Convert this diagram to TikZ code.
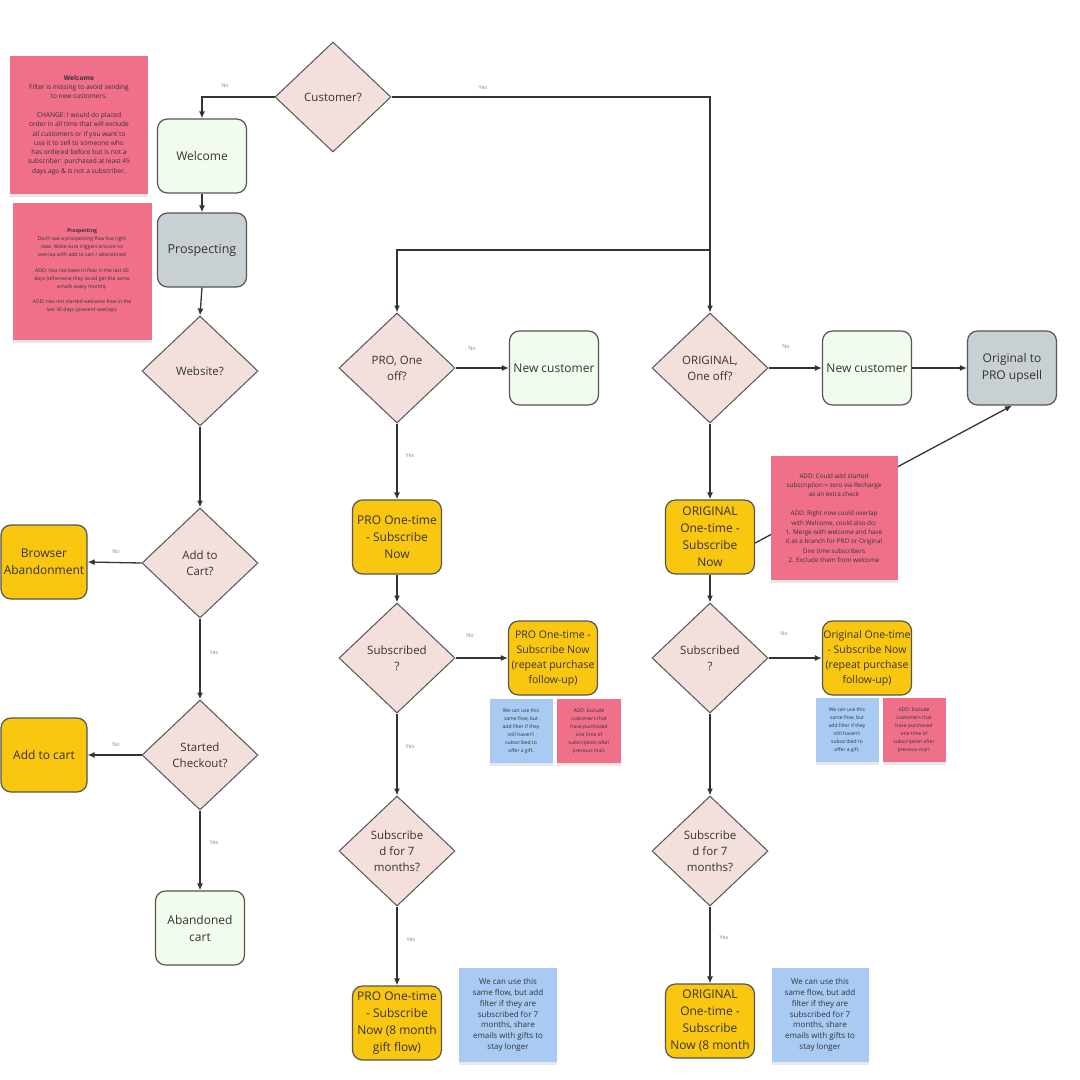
\documentclass[tikz,border=0pt]{standalone}
\usepackage{fontspec}
\setmainfont{Open Sans}
\usetikzlibrary{shapes.geometric,arrows.meta,shadows}
\definecolor{diafill}{HTML}{F3E0DD}
\definecolor{edgec}{HTML}{555555}
\definecolor{linec}{HTML}{333333}
\definecolor{greenfill}{HTML}{F2FCEE}
\definecolor{yellowfill}{HTML}{FAC710}
\definecolor{grayfill}{HTML}{C8D0D3}
\definecolor{pinkst}{HTML}{EF7088}
\definecolor{bluest}{HTML}{A9CBF3}
\definecolor{txt}{HTML}{333333}
\definecolor{lblc}{HTML}{888888}
\tikzset{
  dia/.style={diamond, draw=edgec, fill=diafill, line width=1pt, minimum width=116pt, minimum height=110pt, inner sep=0pt, align=center, text=txt, font=\fontsize{11.5}{16}\selectfont},
  boxbase/.style={rounded corners=10pt, draw=edgec, line width=1.2pt, minimum width=89pt, minimum height=74pt, inner sep=1pt, align=center, text=txt, font=\fontsize{12}{17}\selectfont},
  gbox/.style={boxbase, fill=greenfill},
  ybox/.style={boxbase, fill=yellowfill},
  graybox/.style={boxbase, fill=grayfill},
  conn/.style={draw=linec, line width=1.3pt, -{Latex[length=7pt,width=6pt]}},
  plain/.style={draw=linec, line width=1.3pt},
  lbl/.style={text=lblc, font=\fontsize{5.5}{6}\selectfont, inner sep=0pt},
  sticky/.style={inner sep=0pt, align=center, text=txt, drop shadow={opacity=0.18, shadow xshift=0pt, shadow yshift=-3pt}},
  pinksticky/.style={sticky, fill=pinkst},
  bluesticky/.style={sticky, fill=bluest},
}
\begin{document}
\begin{tikzpicture}[x=1pt,y=-1pt]
\useasboundingbox[fill=white] (0,0) rectangle (1080,1080);

% ---------- nodes ----------
\node[dia] (cust) at (333,97) {Customer?};
\node[gbox] (welc) at (202,156) {Welcome};
\node[graybox, font=\fontsize{12.5}{17}\selectfont] (prosp) at (202,250) {Prospecting};
\node[dia] (web) at (200,371) {Website?};
\node[dia] (atc) at (200,563) {Add to\\Cart?};
\node[ybox, minimum width=86pt] (brab) at (44,562) {Browser\\Abandonment};
\node[dia] (chk) at (200,755) {Started\\Checkout?};
\node[ybox, minimum width=86pt] (atcb) at (44,755) {Add to cart};
\node[gbox] (abc) at (200,928) {Abandoned\\cart};

\node[dia] (pro) at (397,368) {PRO, One\\off?};
\node[gbox] (pnew) at (554,368) {New customer};
\node[ybox] (pone) at (397,537) {PRO One-time\\- Subscribe\\Now};
\node[dia] (psub) at (397,658) {Subscribed\\?};
\node[ybox, font=\fontsize{10.5}{15}\selectfont] (prep) at (553,658) {PRO One-time -\\Subscribe Now\\(repeat purchase\\follow-up)};
\node[dia] (p7) at (397,851) {Subscribe\\d for 7\\months?};
\node[ybox] (p8) at (397,1023) {PRO One-time\\- Subscribe\\Now (8 month\\gift flow)};

\node[dia] (orig) at (710,368) {ORIGINAL,\\One off?};
\node[gbox] (onew) at (867,368) {New customer};
\node[graybox] (ups) at (1012,368) {Original to\\PRO upsell};
\node[ybox] (oone) at (710,537) {ORIGINAL\\One-time -\\Subscribe\\Now};
\node[dia] (osub) at (710,658) {Subscribed\\?};
\node[ybox, font=\fontsize{10.5}{15}\selectfont] (orep) at (867,658) {Original One-time\\- Subscribe Now\\(repeat purchase\\follow-up)};
\node[dia] (o7) at (710,851) {Subscribe\\d for 7\\months?};
\node[ybox] (o8) at (710,1021) {ORIGINAL\\One-time -\\Subscribe\\Now (8 month};

\coordinate (split) at (710,250);

% ---------- connectors ----------
\draw[conn] (cust.west) -| (welc.north);
\draw[conn] (cust.east) -| (orig.north);
\draw[conn] (split) -| (pro.north);
\draw[conn] (welc) -- (prosp);
\draw[conn] (prosp.south) -- (web.north);
\draw[conn] (web) -- (atc);
\draw[conn] (atc.west) -- (brab.east);
\draw[conn] (atc) -- (chk);
\draw[conn] (chk.west) -- (atcb.east);
\draw[conn] (chk) -- (abc);

\draw[conn] (pro.east) -- (pnew.west);
\draw[conn] (pro) -- (pone);
\draw[conn] (pone) -- (psub);
\draw[conn] (psub.east) -- (prep.west);
\draw[conn] (psub) -- (p7);
\draw[conn] (p7) -- (p8);

\draw[conn] (orig.east) -- (onew.west);
\draw[conn] (onew) -- (ups);
\draw[conn] (orig) -- (oone);
\draw[conn] ([yshift=-6pt]oone.east) -- (ups.south);
\draw[conn] (oone) -- (osub);
\draw[conn] (osub.east) -- (orep.west);
\draw[conn] (osub) -- (o7);
\draw[conn] (o7) -- (o8);

% ---------- labels ----------
\node[lbl] (l1) at (225,86) {No};
\node[lbl] (l2) at (483,88) {Yes};
\node[lbl] (l3) at (116,552) {No};
\node[lbl] (l4) at (214,653) {Yes};
\node[lbl] (l5) at (116,745) {No};
\node[lbl] (l6) at (214,843) {Yes};
\node[lbl] (l7) at (472,349) {No};
\node[lbl] (l8) at (410,456) {Yes};
\node[lbl] (l9) at (470,636) {No};
\node[lbl] (l10) at (410,747) {Yes};
\node[lbl] (l11) at (411,940) {Yes};
\node[lbl] (l12) at (786,347) {No};
\node[lbl] (l13) at (784,634) {No};
\node[lbl] (l14) at (724,938) {Yes};

% ---------- sticky notes ----------
\node[pinksticky, minimum width=138pt, minimum height=138pt, font=\fontsize{6.6}{9.3}\selectfont] (s1) at (79,125)
 {\textbf{Welcome}\\Filter is missing to avoid sending\\to new customers.\\[9.3pt]CHANGE: I would do placed\\order in all time that will exclude\\all customers or if you want to\\use it to sell to someone who\\has ordered before but is not a\\subscriber: purchased at least 45\\days ago \& is not a subscriber.};
\node[pinksticky, minimum width=139pt, minimum height=137pt, font=\fontsize{5.1}{7.9}\selectfont] (s2) at (82,271)
 {\textbf{Prospecting}\\Don't see a prospecting flow live right\\now. Make sure triggers ensure no\\overlap with add to cart / abandoned\\[7.9pt]ADD: Has not been in flow in the last 60\\days (otherwise they could get the same\\emails every month).\\[7.9pt]ADD: Has not started welcome flow in the\\last 30 days (prevent overlap).};
\node[pinksticky, minimum width=127pt, minimum height=124pt, font=\fontsize{6.3}{9.4}\selectfont] (s3) at (834,518)
 {ADD: Could add started\\subscription = zero via Recharge\\as an extra check\\[9.4pt]ADD: Right now could overlap\\with Welcome, could also do:\\1. Merge with welcome and have\\it as a branch for PRO or Original\\One time subscribers\\2. Exclude them from welcome};

\node[bluesticky, minimum width=63pt, minimum height=64pt, font=\fontsize{5}{8}\selectfont] (s4) at (521,731)
 {We can use this\\same flow, but\\add filter if they\\still haven't\\subscribed to\\offer a gift.};
\node[pinksticky, minimum width=64pt, minimum height=64pt, font=\fontsize{5}{8}\selectfont] (s5) at (589,731)
 {ADD: Exclude\\customers that\\have purchased\\one time of\\subscription after\\previous mail.};
\node[bluesticky, minimum width=63pt, minimum height=64pt, font=\fontsize{5}{8}\selectfont] (s6) at (847,730)
 {We can use this\\same flow, but\\add filter if they\\still haven't\\subscribed to\\offer a gift.};
\node[pinksticky, minimum width=63pt, minimum height=64pt, font=\fontsize{5}{8}\selectfont] (s7) at (914,730)
 {ADD: Exclude\\customers that\\have purchased\\one time of\\subscription after\\previous mail.};

\node[bluesticky, minimum width=98pt, minimum height=94pt, font=\fontsize{8}{10.8}\selectfont] (s8) at (508,1015)
 {We can use this\\same flow, but add\\filter if they are\\subscribed for 7\\months, share\\emails with gifts to\\stay longer};
\node[bluesticky, minimum width=97pt, minimum height=94pt, font=\fontsize{8}{10.8}\selectfont] (s9) at (820,1015)
 {We can use this\\same flow, but add\\filter if they are\\subscribed for 7\\months, share\\emails with gifts to\\stay longer};
\end{tikzpicture}
\end{document}
